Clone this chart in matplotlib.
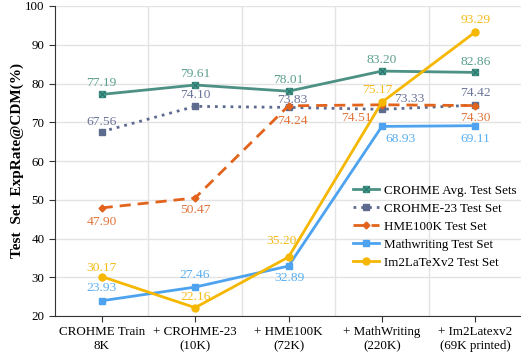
import matplotlib
matplotlib.use("Agg")
import matplotlib.pyplot as plt

plt.rcParams['font.family'] = ['Liberation Serif', 'DejaVu Serif']

stages = ["CROHME Train\n8K", "+ CROHME-23\n(10K)", "+ HME100K\n(72K)",
          "+ MathWriting\n(220K)", "+ Im2Latexv2\n(69K printed)"]
crohme_avg = [77.19, 79.61, 78.01, 83.20, 82.86]
crohme23 = [67.56, 74.10, 73.83, 73.33, 74.42]
hme100k = [47.90, 50.47, 74.24, 74.51, 74.30]
mathwriting = [23.93, 27.46, 32.89, 68.93, 69.11]
im2latex = [30.17, 22.16, 35.20, 75.17, 93.29]

x = list(range(len(stages)))

fig = plt.figure(figsize=(5.21, 3.54), dpi=100)
ax = fig.add_axes([55/521, 1-316/354, 467/521, 310/354])

# label offsets in pixels for each point
off_avg = [(0, 11), (0, 11), (0, 11), (0, 11), (0, 10)]
off_c23 = [(0, 10), (0, 11), (4, 7), (27, 10), (0, 12)]
off_hme = [(0, -14), (0, -12), (4, -15), (-26, -13), (0, -12)]
off_mw = [(0, 13), (0, 12), (1, -12), (19, -13), (0, -13)]
off_im2 = [(0, 9), (0, 11), (-7, 16), (-5, 12), (0, 12)]

l1, = ax.plot(x, crohme_avg, color='#4C9184', lw=2, marker='s', ms=5,
              mfc='#3FA899', mec='#3C8C80', zorder=3)
l1x, = ax.plot(x, crohme_avg, ls='none', marker='x', ms=4, mec='#2F6E65',
               mew=0.8, zorder=4)
l2, = ax.plot(x, crohme23, color='#5D6B8E', lw=2, ls=(0, (1, 1.8)),
              marker='s', ms=5, zorder=3)
l3, = ax.plot(x, hme100k, color='#E2631B', lw=2, ls=(0, (4, 2.5)),
              marker='D', ms=3.5, zorder=3)
l4, = ax.plot(x, mathwriting, color='#4DA3EF', lw=2, marker='s', ms=5, zorder=3)
l5, = ax.plot(x, im2latex, color='#F5B700', lw=2, marker='o', ms=5, zorder=3)

series = [(crohme_avg, off_avg, '#5C9E8E'), (crohme23, off_c23, '#6B7599'),
          (hme100k, off_hme, '#E0743A'), (mathwriting, off_mw, '#5AAFF0'),
          (im2latex, off_im2, '#F5BC1A')]
for vals, offs, c in series:
    for xi, v, o in zip(x, vals, offs):
        ax.annotate(f"{v:.2f}", (xi, v), xytext=o, textcoords='offset pixels',
                    ha='center', va='center', color=c, fontsize=9.7, zorder=5)

ax.set_xlim(-0.5, 4.5)
ax.set_ylim(20, 100)
ax.set_yticks(range(20, 101, 10))
ax.set_xticks(x)
ax.set_xticklabels(stages)
ax.set_xticks([0.5, 1.5, 2.5, 3.5], minor=True)
ax.tick_params(axis='x', which='minor', length=0)
ax.tick_params(axis='both', labelsize=9.4, color='#333333', length=4)
ax.grid(True, axis='y', color='#E3E3E3', lw=1)
ax.grid(True, axis='x', which='minor', color='#E3E3E3', lw=1)
ax.set_axisbelow(True)
for s in ['top', 'right']:
    ax.spines[s].set_visible(False)
for s in ['left', 'bottom']:
    ax.spines[s].set_color('#333333')
ax.set_ylabel("Test  Set  ExpRate@CDM(%)", fontsize=11, fontweight='bold', labelpad=1)

ax.legend([(l1, l1x), l2, l3, l4, l5],
          ["CROHME Avg. Test Sets", "CROHME-23 Test Set", "HME100K Test Set",
           "Mathwriting Test Set", "Im2LaTeXv2 Test Set"],
          loc='upper left', bbox_to_anchor=(0.638, 0.424), frameon=False,
          fontsize=9.4, handlelength=2.0, handletextpad=0.4, labelspacing=0.45,
          borderaxespad=0, borderpad=0)

fig.savefig("out.png", dpi=100)
